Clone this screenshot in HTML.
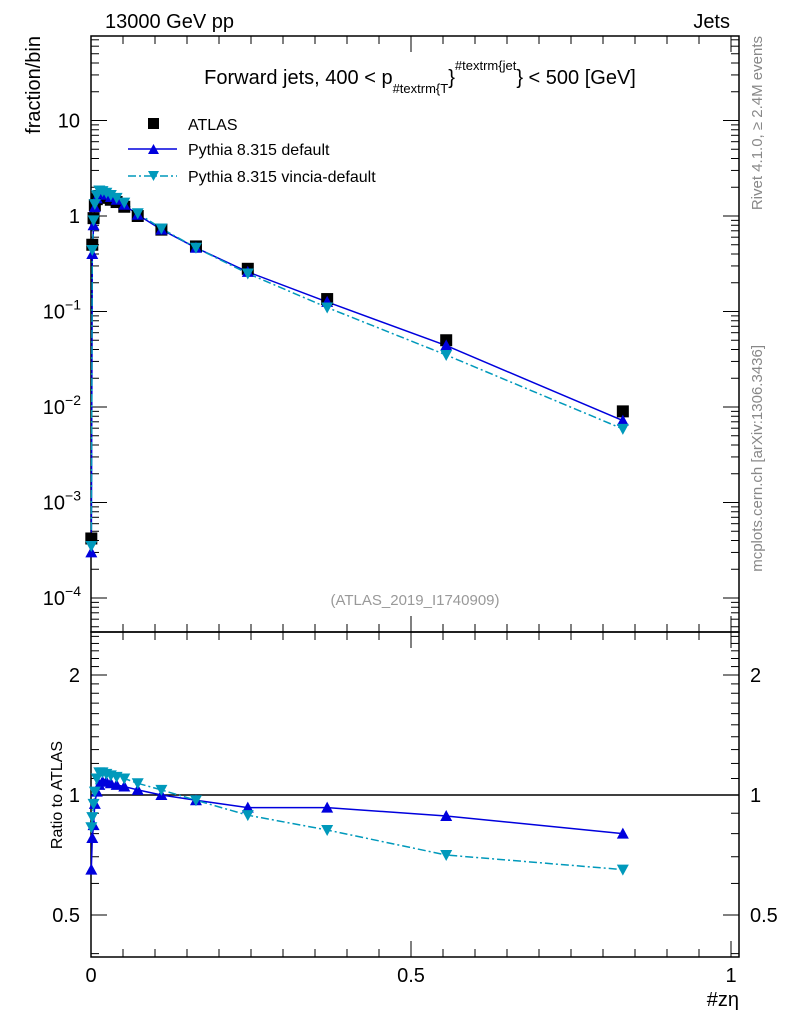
<!DOCTYPE html>
<html><head><meta charset="utf-8"><style>
html,body{margin:0;padding:0;background:#fff;}
svg{display:block;font-family:"Liberation Sans",sans-serif;}
</style></head><body>
<svg id="c" width="786" height="1024" viewBox="0 0 786 1024" xmlns="http://www.w3.org/2000/svg">
<text x="105" y="28" font-size="20">13000 GeV pp</text>
<text x="730" y="28" font-size="20" text-anchor="end">Jets</text>
<text x="420" y="84" font-size="20" text-anchor="middle">Forward jets, 400 &lt; p<tspan font-size="13" dy="9">#textrm{T</tspan><tspan font-size="20" dy="-9">}</tspan><tspan font-size="13" dy="-14">#textrm{jet</tspan><tspan font-size="20" dy="14">} &lt; 500 [GeV]</tspan></text>
<text x="40" y="36" font-size="20" text-anchor="end" transform="rotate(-90 40 36)">fraction/bin</text>
<text x="62" y="795" font-size="16" text-anchor="middle" transform="rotate(-90 62 795)">Ratio to ATLAS</text>
<text x="739" y="1006" font-size="20" text-anchor="end">#zη</text>
<text x="762" y="36" font-size="15" fill="#888" text-anchor="end" transform="rotate(-90 762 36)">Rivet 4.1.0, ≥ 2.4M events</text>
<text x="762" y="345" font-size="15" fill="#888" text-anchor="end" transform="rotate(-90 762 345)">mcplots.cern.ch [arXiv:1306.3436]</text>
<text x="415" y="605" font-size="15" fill="#999" text-anchor="middle">(ATLAS_2019_I1740909)</text>
<g id="legend">
 <g><rect x="148" y="118" width="11" height="11" fill="#000"/><text x="188" y="130" font-size="16">ATLAS</text></g>
 <g><line x1="128" y1="149" x2="177" y2="149" stroke="#0000dd" stroke-width="1.5"/><path d="M148,154 L159,154 L153.5,144 Z" fill="#0000dd"/><text x="188" y="155" font-size="16">Pythia 8.315 default</text></g>
 <g><line x1="128" y1="176" x2="177" y2="176" stroke="#0099bb" stroke-width="1.5" stroke-dasharray="8,3,2,3"/><path d="M148,171 L159,171 L153.5,181 Z" fill="#0099bb"/><text x="188" y="182" font-size="16">Pythia 8.315 vincia-default</text></g>
</g>
<g id="axes"></g>
<g id="marks"></g>
</svg>
<script>
const xVals=[0.0005,0.002,0.004,0.006,0.009,0.013,0.018,0.024,0.031,0.04,0.052,0.073,0.11,0.164,0.245,0.369,0.555,0.831];
const atlasVals=[0.00042,0.5,0.95,1.3,1.5,1.62,1.6,1.55,1.48,1.4,1.25,1.0,0.72,0.48,0.28,0.135,0.05,0.009];
const defaultVals=[0.0003,0.4,0.8,1.24,1.53,1.72,1.73,1.67,1.58,1.48,1.31,1.03,0.72,0.465,0.26,0.126,0.044,0.0072];
const vinciaVals=[0.00035,0.44,0.9,1.33,1.65,1.85,1.82,1.75,1.66,1.55,1.38,1.07,0.74,0.465,0.25,0.11,0.035,0.0059];
const ratioDefault=[0.65,0.78,0.84,0.95,1.02,1.06,1.08,1.08,1.07,1.06,1.05,1.03,1.0,0.97,0.93,0.93,0.886,0.80];
const ratioVincia=[0.83,0.88,0.95,1.02,1.10,1.14,1.14,1.13,1.12,1.11,1.10,1.07,1.03,0.97,0.89,0.817,0.707,0.65];
const xTicks=[0,0.5,1];
const xTickLabels=["0","0.5","1"];
const yDecades=[-4,-3,-2,-1,0,1];
const yTickLabels=["10^-4","10^-3","10^-2","10^-1","1","10"];
const ratioTicks=[0.5,1,2];
const ratioTickLabels=["0.5","1","2"];

const NS="http://www.w3.org/2000/svg";
const L=91,R=739,T=36,MB=632,RB=957;
const X=v=>91+640*v;
const Y=v=>216-95.5*Math.log10(v);
const RY=v=>795-398.6*Math.log10(v);
function mk(tag,attrs,parent){const e=document.createElementNS(NS,tag);for(const k in attrs)e.setAttribute(k,attrs[k]);parent.appendChild(e);return e;}
const ax=document.getElementById('axes'),mg=document.getElementById('marks');

let f1=mk('rect',{x:L,y:T,width:R-L,height:MB-T,fill:'none',stroke:'#000','stroke-width':1.5},ax);


let f2=mk('rect',{x:L,y:MB,width:R-L,height:RB-MB,fill:'none',stroke:'#000','stroke-width':1.5},ax);



for(let i=0;i<=20;i++){const v=i*0.05;const px=X(v);if(px>R)break;const major=(i%10===0);const len=major?16:8;
 [[MB,-1],[T,1],[RB,-1],[MB,1]].forEach(([y0,d])=>{let t=mk('line',{x1:px,x2:px,y1:y0,y2:y0+d*len,stroke:'#000','stroke-width':1},ax);});}
xTicks.forEach((v,i)=>{let t=mk('text',{x:X(v),y:982,'font-size':20,'text-anchor':'middle'},ax);t.textContent=xTickLabels[i];});

for(let d=-5;d<=1;d++){for(let m=1;m<=9;m++){const v=m*Math.pow(10,d);const py=Y(v);if(py<T||py>MB)continue;const len=m===1?16:8;
 [[L,1],[R,-1]].forEach(([x0,s])=>{let t=mk('line',{x1:x0,x2:x0+s*len,y1:py,y2:py,stroke:'#000','stroke-width':1},ax);});}}
yDecades.forEach((d,i)=>{const py=Y(Math.pow(10,d));let t=mk('text',{x:80,y:py+7,'font-size':20,'text-anchor':'end'},ax);
 if(d>=0){t.textContent=yTickLabels[i];}else{t.textContent='10';let s=mk('tspan',{'font-size':14,dy:-9},t);s.textContent=String.fromCharCode(8722)+(-d);t.setAttribute('x',81);t.setAttribute('text-anchor','end');}
 });

for(let v=0.4;v<=2.5;v=Math.round((v+0.1)*10)/10){const py=RY(v);if(py<MB||py>RB)continue;const major=ratioTicks.includes(v);const len=major?16:8;
 [[L,1],[R,-1]].forEach(([x0,s])=>{let t=mk('line',{x1:x0,x2:x0+s*len,y1:py,y2:py,stroke:'#000','stroke-width':1},ax);});}
ratioTicks.forEach((v,i)=>{[[80,'end'],[750,'start']].forEach(([x,a])=>{let t=mk('text',{x:x,y:RY(v)+7,'font-size':20,'text-anchor':a},ax);t.textContent=ratioTickLabels[i];});});
let one=mk('line',{x1:L,x2:R,y1:RY(1),y2:RY(1),stroke:'#000','stroke-width':1.5},ax);



function line(xs,ys,fy,color,dash,name){const d=xs.map((x,i)=>(i?'L':'M')+X(x).toFixed(1)+','+fy(ys[i]).toFixed(1)).join(' ');
 let p=mk('path',{d:d,fill:'none',stroke:color,'stroke-width':1.5,'stroke-dasharray':dash||'none'},mg);}
function tri(xs,ys,fy,color,up,name){xs.forEach((x,i)=>{const cx=X(x),cy=fy(ys[i]);const d=up?`M${cx-6},${cy+5} L${cx+6},${cy+5} L${cx},${cy-6} Z`:`M${cx-6},${cy-5} L${cx+6},${cy-5} L${cx},${cy+6} Z`;
 let p=mk('path',{d:d,fill:color},mg);});}

line(xVals,defaultVals,Y,'#0000dd',null,'default-line');
line(xVals,vinciaVals,Y,'#0099bb','8,3,2,3','vincia-line');
xVals.forEach((x,i)=>{let r=mk('rect',{x:X(x)-6,y:Y(atlasVals[i])-6,width:12,height:12,fill:'#000'},mg);});
tri(xVals,defaultVals,Y,'#0000dd',true,'default-point');
tri(xVals,vinciaVals,Y,'#0099bb',false,'vincia-point');

line(xVals,ratioDefault,RY,'#0000dd',null,'ratio-default-line');
line(xVals,ratioVincia,RY,'#0099bb','8,3,2,3','ratio-vincia-line');
tri(xVals,ratioDefault,RY,'#0000dd',true,'ratio-default-point');
tri(xVals,ratioVincia,RY,'#0099bb',false,'ratio-vincia-point');
</script>
</body></html>
